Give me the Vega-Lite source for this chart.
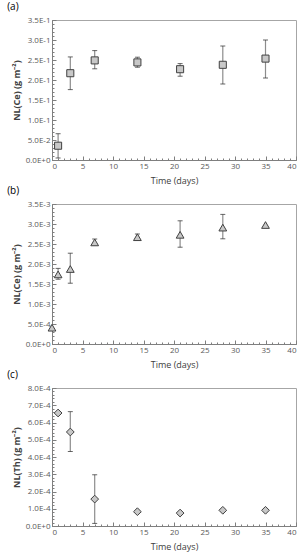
{
  "$schema": "https://vega.github.io/schema/vega-lite/v6.json",
  "padding": {"left": 6, "top": 1, "right": 0, "bottom": 0},
  "background": "white",
  "config": {
    "font": "Open Sans",
    "view": {"stroke": "#a6a6a6", "strokeWidth": 1},
    "title": {"fontSize": 10, "fontWeight": "normal", "anchor": "start", "frame": "bounds", "color": "#000000", "offset": 0, "font": "Open Sans"},
    "axis": {"grid": false, "labelFont": "Open Sans", "labelFontSize": 8, "labelColor": "#595959", "titleColor": "#404040", "titleFont": "Open Sans", "domainColor": "#7f7f7f", "tickColor": "#7f7f7f"}
  },
  "datasets": {
    "a": [
      {"t": 1, "v": 0.0357, "lo": 0.005, "hi": 0.0657},
      {"t": 3, "v": 0.217, "lo": 0.176, "hi": 0.2577},
      {"t": 7, "v": 0.249, "lo": 0.228, "hi": 0.2735},
      {"t": 14, "v": 0.244, "lo": 0.232, "hi": 0.257},
      {"t": 21, "v": 0.227, "lo": 0.2095, "hi": 0.241},
      {"t": 28, "v": 0.238, "lo": 0.19, "hi": 0.285},
      {"t": 35, "v": 0.2535, "lo": 0.205, "hi": 0.3}
    ],
    "b": [
      {"t": 0, "v": 0.000408},
      {"t": 1, "v": 0.00174, "lo": 0.00162, "hi": 0.00189},
      {"t": 3, "v": 0.001875, "lo": 0.00152, "hi": 0.00227},
      {"t": 7, "v": 0.00254, "lo": 0.002475, "hi": 0.002625},
      {"t": 14, "v": 0.00267, "lo": 0.0026, "hi": 0.00275},
      {"t": 21, "v": 0.00273, "lo": 0.00242, "hi": 0.00308},
      {"t": 28, "v": 0.00291, "lo": 0.00263, "hi": 0.00324},
      {"t": 35, "v": 0.002975}
    ],
    "c": [
      {"t": 1, "v": 0.000655},
      {"t": 3, "v": 0.000545, "lo": 0.000432, "hi": 0.000663},
      {"t": 7, "v": 0.000156, "lo": 0.000015, "hi": 0.000297},
      {"t": 14, "v": 0.000083},
      {"t": 21, "v": 0.000075},
      {"t": 28, "v": 0.000091},
      {"t": 35, "v": 0.000091}
    ]
  },
  "bounds": "flush",
  "spacing": 44,
  "vconcat": [
    {
      "width": 244, "height": 140,
      "title": {"text": "(a)", "dx": -5},
      "data": {"name": "a"},
      "resolve": {"axis": {"x": "independent", "y": "independent"}},
      "layer": [
        {
          "mark": {"type": "rule", "color": "#8c8c8c", "strokeWidth": 1.2},
          "encoding": {
            "x": {"field": "t", "type": "quantitative", "scale": {"domain": [0, 40], "nice": false},
              "axis": {"orient": "bottom", "values": [0,1,2,3,4,5,6,7,8,9,10,11,12,13,14,15,16,17,18,19,20,21,22,23,24,25,26,27,28,29,30,31,32,33,34,35,36,37,38,39,40], "labels": false, "domain": false, "tickSize": -2, "title": null}},
            "y": {"field": "lo", "type": "quantitative", "scale": {"domain": [0, 0.35], "nice": false},
              "axis": {"orient": "left", "values": [0,0.01,0.02,0.03,0.04,0.05,0.06,0.07,0.08,0.09,0.1,0.11,0.12,0.13,0.14,0.15,0.16,0.17,0.18,0.19,0.2,0.21,0.22,0.23,0.24,0.25,0.26,0.27,0.28,0.29,0.3,0.31,0.32,0.33,0.34,0.35], "labels": false, "domain": false, "tickSize": -2, "title": null}},
            "y2": {"field": "hi"}
          }
        },
        {
          "mark": {"type": "tick", "orient": "horizontal", "color": "#262626", "size": 5, "thickness": 1},
          "encoding": {"x": {"field": "t", "type": "quantitative", "axis": null}, "y": {"field": "lo", "type": "quantitative", "axis": null}}
        },
        {
          "mark": {"type": "tick", "orient": "horizontal", "color": "#262626", "size": 5, "thickness": 1},
          "encoding": {"x": {"field": "t", "type": "quantitative", "axis": null}, "y": {"field": "hi", "type": "quantitative", "axis": null}}
        },
        {
          "mark": {"type": "point", "shape": "square", "filled": true, "fill": "#c8c8c8", "stroke": "#404040", "strokeWidth": 1, "size": 50, "opacity": 1},
          "encoding": {
            "x": {"field": "t", "type": "quantitative", "axis": {"orient": "bottom", "values": [0,5,10,15,20,25,30,35,40], "tickSize": -4, "labelPadding": 6, "title": "Time (days)", "titleFontSize": 9, "titleFontWeight": "normal", "titlePadding": 6}},
            "y": {"field": "v", "type": "quantitative", "axis": {"orient": "left", "values": [0,0.05,0.1,0.15,0.2,0.25,0.3,0.35], "tickSize": -4, "labelPadding": 6, "labelExpr": "replace(format(datum.value, '.1e'), 'e', 'E')", "title": "NL(Ce) (g m⁻²)", "titleFontSize": 9, "titleFontWeight": "bold", "titlePadding": 4}}
          }
        }
      ]
    },
    {
      "width": 244, "height": 140,
      "title": {"text": "(b)", "dx": -5},
      "data": {"name": "b"},
      "resolve": {"axis": {"x": "independent", "y": "independent"}},
      "layer": [
        {
          "mark": {"type": "rule", "color": "#8c8c8c", "strokeWidth": 1.2},
          "encoding": {
            "x": {"field": "t", "type": "quantitative", "scale": {"domain": [0, 40], "nice": false},
              "axis": {"orient": "bottom", "values": [0,1,2,3,4,5,6,7,8,9,10,11,12,13,14,15,16,17,18,19,20,21,22,23,24,25,26,27,28,29,30,31,32,33,34,35,36,37,38,39,40], "labels": false, "domain": false, "tickSize": -2, "title": null}},
            "y": {"field": "lo", "type": "quantitative", "scale": {"domain": [0, 0.0035], "nice": false},
              "axis": {"orient": "left", "values": [0,0.0001,0.0002,0.0003,0.0004,0.0005,0.0006,0.0007,0.0008,0.0009,0.001,0.0011,0.0012,0.0013,0.0014,0.0015,0.0016,0.0017,0.0018,0.0019,0.002,0.0021,0.0022,0.0023,0.0024,0.0025,0.0026,0.0027,0.0028,0.0029,0.003,0.0031,0.0032,0.0033,0.0034,0.0035], "labels": false, "domain": false, "tickSize": -2, "title": null}},
            "y2": {"field": "hi"}
          }
        },
        {
          "mark": {"type": "tick", "orient": "horizontal", "color": "#262626", "size": 5, "thickness": 1},
          "encoding": {"x": {"field": "t", "type": "quantitative", "axis": null}, "y": {"field": "lo", "type": "quantitative", "axis": null}}
        },
        {
          "mark": {"type": "tick", "orient": "horizontal", "color": "#262626", "size": 5, "thickness": 1},
          "encoding": {"x": {"field": "t", "type": "quantitative", "axis": null}, "y": {"field": "hi", "type": "quantitative", "axis": null}}
        },
        {
          "mark": {"type": "point", "shape": "triangle-up", "filled": true, "fill": "#c8c8c8", "stroke": "#404040", "strokeWidth": 1, "size": 60, "opacity": 1},
          "encoding": {
            "x": {"field": "t", "type": "quantitative", "axis": {"orient": "bottom", "values": [0,5,10,15,20,25,30,35,40], "tickSize": -4, "labelPadding": 6, "title": "Time (days)", "titleFontSize": 9, "titleFontWeight": "normal", "titlePadding": 6}},
            "y": {"field": "v", "type": "quantitative", "axis": {"orient": "left", "values": [0,0.0005,0.001,0.0015,0.002,0.0025,0.003,0.0035], "tickSize": -4, "labelPadding": 6, "labelExpr": "replace(format(datum.value, '.1e'), 'e', 'E')", "title": "NL(Ce) (g m⁻²)", "titleFontSize": 9, "titleFontWeight": "bold", "titlePadding": 4}}
          }
        }
      ]
    },
    {
      "width": 244, "height": 138,
      "title": {"text": "(c)", "dx": -5},
      "data": {"name": "c"},
      "resolve": {"axis": {"x": "independent", "y": "independent"}},
      "layer": [
        {
          "mark": {"type": "rule", "color": "#8c8c8c", "strokeWidth": 1.2},
          "encoding": {
            "x": {"field": "t", "type": "quantitative", "scale": {"domain": [0, 40], "nice": false},
              "axis": {"orient": "bottom", "values": [0,1,2,3,4,5,6,7,8,9,10,11,12,13,14,15,16,17,18,19,20,21,22,23,24,25,26,27,28,29,30,31,32,33,34,35,36,37,38,39,40], "labels": false, "domain": false, "tickSize": -2, "title": null}},
            "y": {"field": "lo", "type": "quantitative", "scale": {"domain": [0, 0.0008], "nice": false},
              "axis": {"orient": "left", "values": [0,0.00002,0.00004,0.00006,0.00008,0.0001,0.00012,0.00014,0.00016,0.00018,0.0002,0.00022,0.00024,0.00026,0.00028,0.0003,0.00032,0.00034,0.00036,0.00038,0.0004,0.00042,0.00044,0.00046,0.00048,0.0005,0.00052,0.00054,0.00056,0.00058,0.0006,0.00062,0.00064,0.00066,0.00068,0.0007,0.00072,0.00074,0.00076,0.00078,0.0008], "labels": false, "domain": false, "tickSize": -2, "title": null}},
            "y2": {"field": "hi"}
          }
        },
        {
          "mark": {"type": "tick", "orient": "horizontal", "color": "#262626", "size": 5, "thickness": 1},
          "encoding": {"x": {"field": "t", "type": "quantitative", "axis": null}, "y": {"field": "lo", "type": "quantitative", "axis": null}}
        },
        {
          "mark": {"type": "tick", "orient": "horizontal", "color": "#262626", "size": 5, "thickness": 1},
          "encoding": {"x": {"field": "t", "type": "quantitative", "axis": null}, "y": {"field": "hi", "type": "quantitative", "axis": null}}
        },
        {
          "mark": {"type": "point", "shape": "diamond", "filled": true, "fill": "#c8c8c8", "stroke": "#404040", "strokeWidth": 1, "size": 60, "opacity": 1},
          "encoding": {
            "x": {"field": "t", "type": "quantitative", "axis": {"orient": "bottom", "values": [0,5,10,15,20,25,30,35,40], "tickSize": -4, "labelPadding": 6, "title": "Time (days)", "titleFontSize": 9, "titleFontWeight": "normal", "titlePadding": 6}},
            "y": {"field": "v", "type": "quantitative", "axis": {"orient": "left", "values": [0,0.0001,0.0002,0.0003,0.0004,0.0005,0.0006,0.0007,0.0008], "tickSize": -4, "labelPadding": 6, "labelExpr": "replace(format(datum.value, '.1e'), 'e', 'E')", "title": "NL(Th) (g m⁻²)", "titleFontSize": 9, "titleFontWeight": "bold", "titlePadding": 4}}
          }
        }
      ]
    }
  ]
}
